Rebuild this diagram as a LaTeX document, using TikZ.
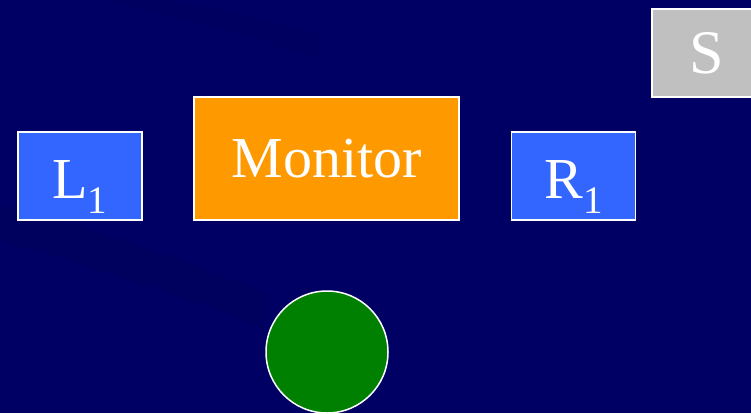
\documentclass[tikz,border=0pt]{standalone}
\usepackage{fontspec}
\setmainfont{Liberation Serif}
\definecolor{navy}{RGB}{0,0,100}
\definecolor{navydark}{RGB}{0,0,90}
\definecolor{boxblue}{RGB}{51,102,255}
\definecolor{boxorange}{RGB}{255,153,0}
\definecolor{boxgray}{RGB}{192,192,192}
\definecolor{ballgreen}{RGB}{0,128,0}
\newcommand{\sub}[1]{\raisebox{-15pt}{\fontsize{39}{39}\selectfont #1}}
\newcommand{\lowtext}[1]{\smash{\raisebox{-22pt}{#1}}}
\begin{document}
\begin{tikzpicture}[x=1pt,y=-1pt]
        \tikzstyle{party}=[rectangle,draw=white,line width=1.5pt,fill=boxblue,text=white,minimum width=124pt,minimum height=88pt,inner sep=0pt,font=\fontsize{58}{58}\selectfont]
        \tikzstyle{monitor}=[party,fill=boxorange,minimum width=265pt,minimum height=123pt]
        \tikzstyle{source}=[party,fill=boxgray,minimum width=110pt,minimum height=88pt,font=\fontsize{62}{62}\selectfont]
        \tikzstyle{ball}=[circle,draw=white,line width=1.5pt,fill=ballgreen,minimum size=122pt,inner sep=0pt]

       \useasboundingbox (0,0) rectangle (751,413);
       \clip (0,0) rectangle (751,413);
       \fill[navy] (0,0) rectangle (751,413);
       \fill[navydark,opacity=0.5] (0,240) .. controls (120,275) and (230,310) .. (265,330)
            -- (265,295) .. controls (200,262) and (90,228) .. (0,205) -- cycle;
       \fill[navydark,opacity=0.4] (100,0) .. controls (200,20) and (270,42) .. (320,60)
            -- (320,35) .. controls (270,20) and (200,5) .. (160,0) -- cycle;

       \begin{scope}

         \node [party] (l1) at (80,176) {\lowtext{L\sub{1}}};
         \node [monitor] (mon) at (326.5,158.5) {Monitor};
         \node [party] (r1) at (573.5,176) {\lowtext{R\sub{1}}};
         \node [source] (s) at (707,53) {S};
         \node [ball] (b) at (327,352) {};

        \end{scope}
      \end{tikzpicture}
\end{document}
